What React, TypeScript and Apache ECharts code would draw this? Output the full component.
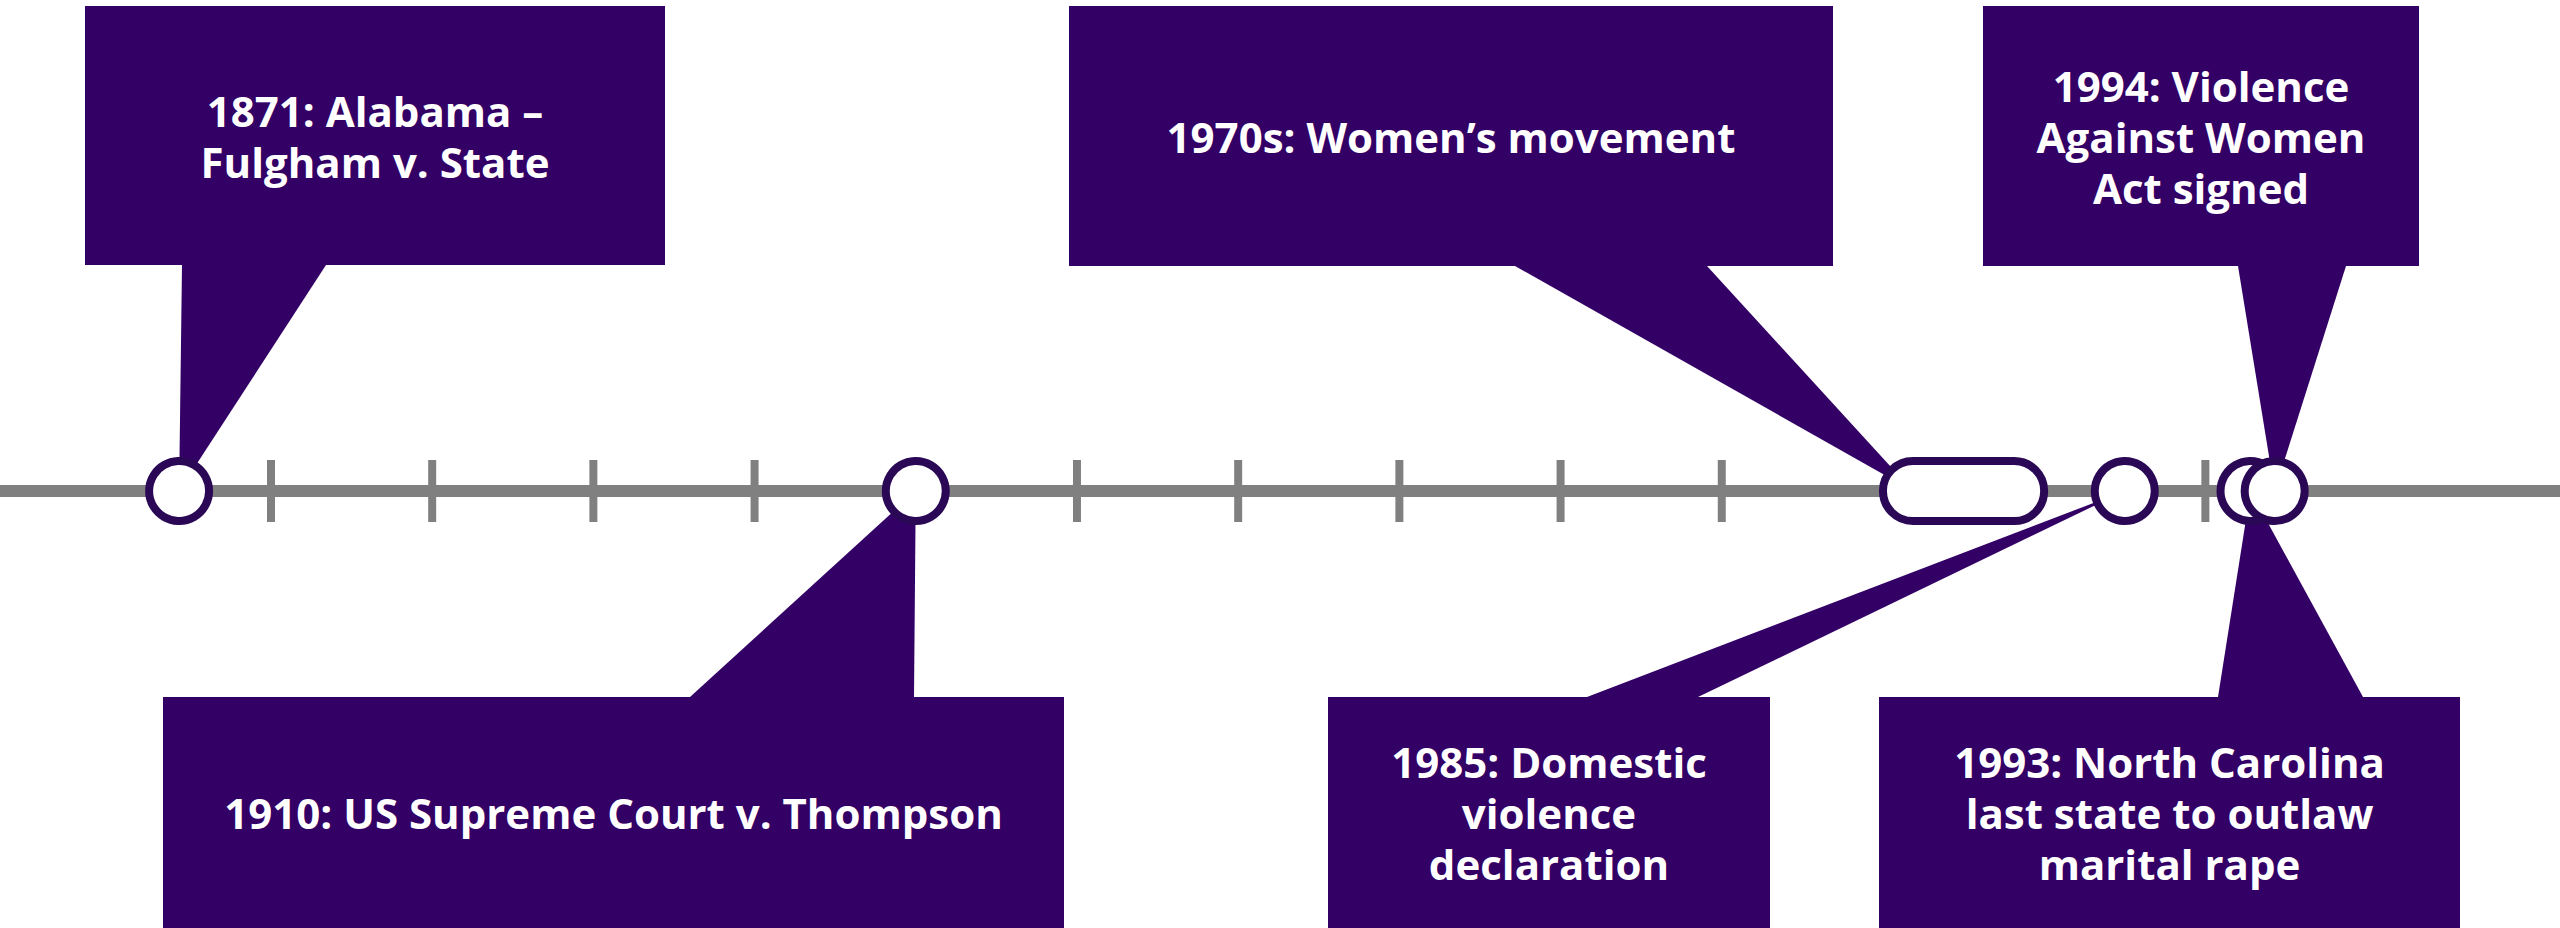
import React, { useEffect, useRef } from "react";
import * as echarts from "echarts";

// ---- data ----
const eventLabels: string[] = [
  "1871: Alabama –\nFulgham v. State",
  "1910: US Supreme Court v. Thompson",
  "1970s: Women’s movement",
  "1985: Domestic\nviolence\ndeclaration",
  "1993: North Carolina\nlast state to outlaw\nmarital rape",
  "1994: Violence\nAgainst Women\nAct signed",
];
// position of each event's marker on the (schematic) timeline axis
const eventStart: number[] = [1864.3, 1910, 1970, 1985, 1992.8, 1994.3];
// span end (only the 1970s event is a period)
const eventEnd: (number | null)[] = [null, null, 1980, null, null, null];
// decade ticks that are drawn on the timeline
const tickYears: number[] = [1870, 1880, 1890, 1900, 1920, 1930, 1940, 1950, 1960, 1990];
const axisMin = 1853.19;
const axisMax = 2012.0;

// ---- layout (pixels) ----
const calloutLayout = [
  { box: [85, 6, 665, 265], base: [182, 326], side: "top" },
  { box: [163, 697, 1064, 928], base: [690, 914], side: "bottom" },
  { box: [1069, 6, 1833, 266], base: [1515, 1707], side: "top" },
  { box: [1328, 697, 1770, 928], base: [1587, 1698], side: "bottom" },
  { box: [1879, 697, 2460, 928], base: [2218, 2363], side: "bottom" },
  { box: [1983, 6, 2419, 266], base: [2238, 2346], side: "top" },
];

const PURPLE = "#330066";
const RING = "#2b0856";
const GRAY = "#808080";
const MARK_R = 30;
const LINE_Y = 491;
const H = 928;

export default function App() {
  const ref = useRef<HTMLDivElement>(null);
  useEffect(() => {
    if (!ref.current) return;
    const chart = echarts.init(ref.current, null, { renderer: "svg" });
    const circleData = eventStart
      .map((s, i) => ({ s, i }))
      .filter((d) => eventEnd[d.i] == null)
      .map((d) => [d.s, 0]);
    const pillData = eventStart
      .map((s, i) => ({ s, i }))
      .filter((d) => eventEnd[d.i] != null)
      .map((d) => [d.s, 0, eventEnd[d.i] as number]);

    chart.setOption({
      animation: false,
      backgroundColor: "#ffffff",
      grid: { left: 0, right: 0, top: 0, bottom: 0, containLabel: false },
      xAxis: {
        type: "value",
        min: axisMin,
        max: axisMax,
        axisLine: { show: true, onZero: true, lineStyle: { color: GRAY, width: 12 } },
        axisTick: { show: false },
        axisLabel: { show: false },
        splitLine: { show: false },
      },
      yAxis: {
        type: "value",
        min: -(H - LINE_Y),
        max: LINE_Y,
        show: false,
        axisLine: { show: false },
        splitLine: { show: false },
      },
      series: [
        {
          type: "custom",
          z: 2,
          clip: false,
          data: eventStart.map((s, i) => [s, 0, i]),
          renderItem: (params: any, api: any) => {
            const i = api.value(2);
            const L = calloutLayout[i];
            const c = api.coord([api.value(0), 0]);
            const ax = c[0] + (eventEnd[i] != null ? MARK_R : 0);
            const ay = c[1];
            const [x0, y0, x1, y1] = L.box;
            const baseY = L.side === "top" ? y1 : y0;
            return {
              type: "group",
              children: [
                {
                  type: "polygon",
                  shape: { points: [[L.base[0], baseY], [L.base[1], baseY], [ax, ay]] },
                  style: { fill: PURPLE },
                },
                {
                  type: "rect",
                  shape: { x: x0, y: y0, width: x1 - x0, height: y1 - y0 },
                  style: { fill: PURPLE },
                },
                {
                  type: "text",
                  x: (x0 + x1) / 2,
                  y: (y0 + y1) / 2,
                  style: {
                    text: eventLabels[i],
                    fill: "#ffffff",
                    fontFamily: "Open Sans",
                    fontWeight: "bold",
                    fontSize: 42,
                    lineHeight: 51,
                    align: "center",
                    verticalAlign: "middle",
                  },
                },
              ],
            };
          },
        },
        {
          type: "scatter",
          z: 3,
          symbol: "rect",
          symbolSize: [8, 62],
          itemStyle: { color: GRAY, opacity: 1 },
          data: tickYears.map((y) => [y, 0]),
          silent: true,
        },
        {
          type: "custom",
          z: 4,
          clip: false,
          data: pillData,
          renderItem: (params: any, api: any) => {
            const c0 = api.coord([api.value(0), 0]);
            const c1 = api.coord([api.value(2), 0]);
            return {
              type: "rect",
              shape: { x: c0[0], y: c0[1] - MARK_R, width: c1[0] - c0[0], height: MARK_R * 2, r: MARK_R },
              style: { fill: "#ffffff", stroke: RING, lineWidth: 8 },
            };
          },
        },
        {
          type: "scatter",
          z: 5,
          symbol: "circle",
          symbolSize: MARK_R * 2,
          itemStyle: { color: "#ffffff", borderColor: RING, borderWidth: 8, opacity: 1 },
          data: circleData,
          silent: true,
        },
      ],
    });
    return () => chart.dispose();
  }, []);
  return (
    <div
      ref={ref}
      style={{ position: "fixed", left: 0, top: 0, width: 2560, height: 928 }}
    />
  );
}
